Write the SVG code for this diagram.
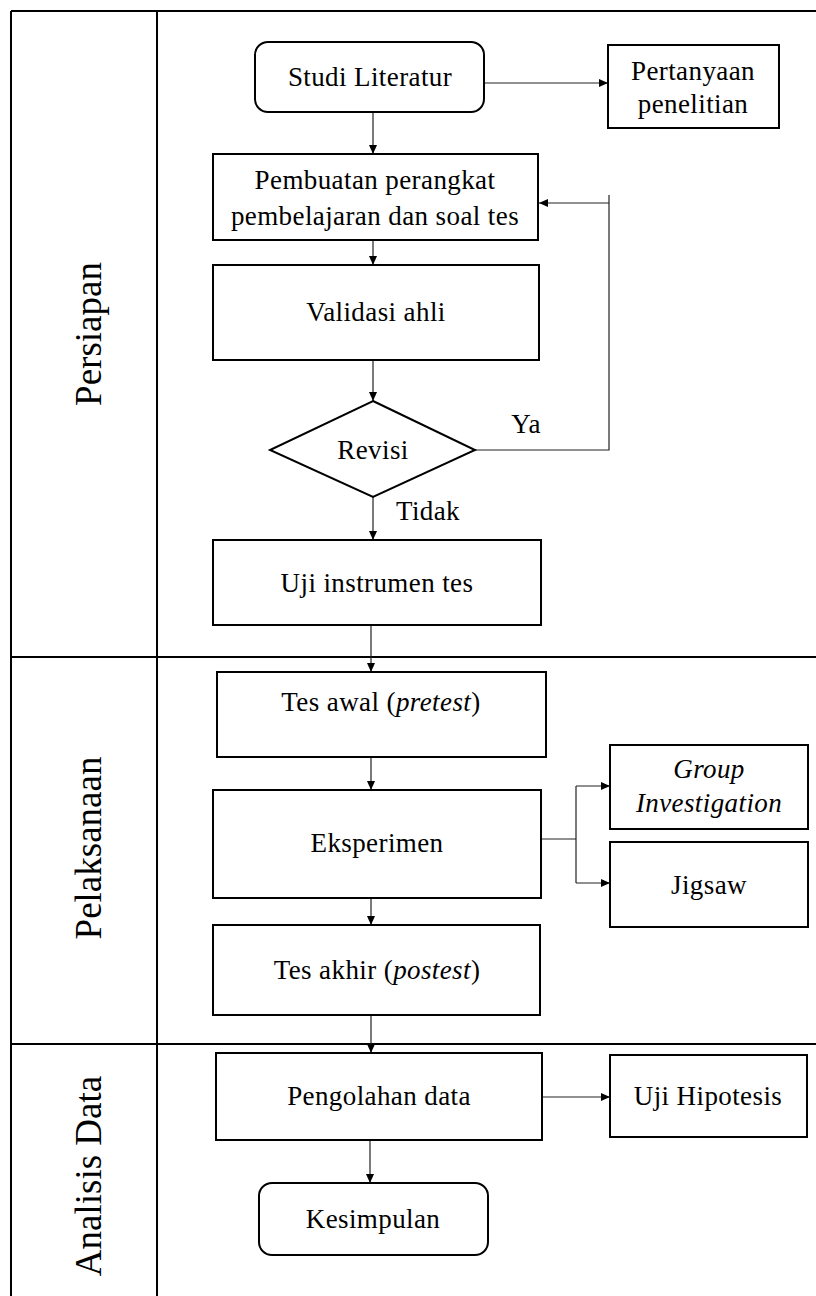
<svg xmlns="http://www.w3.org/2000/svg" width="816" height="1296" viewBox="0 0 816 1296">
<defs>
<marker id="ah" markerUnits="userSpaceOnUse" markerWidth="10" markerHeight="10" refX="9" refY="4" orient="auto">
<path d="M0,0 L9,4 L0,8 z" fill="#000"/>
</marker>
<style>
.box{fill:#fff;stroke:#000;stroke-width:2}
.lane{fill:none;stroke:#000;stroke-width:2}
.c{fill:none;stroke:#222;stroke-width:1.2}
.ca{fill:none;stroke:#222;stroke-width:1.2;marker-end:url(#ah)}
text{font-family:"Liberation Serif","Times New Roman",serif;fill:#000;text-anchor:middle}
.t{font-size:27px;letter-spacing:0.4px}
.it{font-style:italic}
.lbl{font-size:37px}
</style>
</defs>
<rect width="816" height="1296" fill="#fff"/>
<g id="lanes">
<line class="lane" x1="11" y1="11" x2="816" y2="11"/>
<line class="lane" x1="11" y1="11" x2="11" y2="1296"/>
<line class="lane" x1="157" y1="11" x2="157" y2="1296"/>
<line class="lane" x1="11" y1="657" x2="816" y2="657"/>
<line class="lane" x1="11" y1="1044" x2="816" y2="1044"/>
<text class="lbl" transform="translate(101,334) rotate(-90)">Persiapan</text>
<text class="lbl" transform="translate(101,848) rotate(-90)">Pelaksanaan</text>
<text class="lbl" transform="translate(101,1176) rotate(-90)">Analisis Data</text>
</g>
<g id="connectors">
<line class="ca" x1="484" y1="83" x2="608" y2="83"/>
<line class="ca" x1="373" y1="112" x2="373" y2="154"/>
<line class="ca" x1="373" y1="240" x2="373" y2="265"/>
<line class="ca" x1="373" y1="360" x2="373" y2="401"/>
<polyline class="c" points="475,450 609,450 609,195"/>
<line class="ca" x1="609" y1="203" x2="539" y2="203"/>
<line class="ca" x1="373" y1="497" x2="373" y2="540"/>
<line class="ca" x1="371" y1="625" x2="371" y2="672"/>
<line class="ca" x1="371" y1="757" x2="371" y2="790"/>
<line class="c" x1="541" y1="839" x2="576" y2="839"/>
<line class="c" x1="576" y1="786" x2="576" y2="883"/>
<line class="ca" x1="576" y1="786" x2="610" y2="786"/>
<line class="ca" x1="576" y1="883" x2="610" y2="883"/>
<line class="ca" x1="371" y1="898" x2="371" y2="925"/>
<line class="ca" x1="371" y1="1015" x2="371" y2="1053"/>
<line class="ca" x1="542" y1="1097" x2="610" y2="1097"/>
<line class="ca" x1="370" y1="1140" x2="370" y2="1183"/>
<text class="t" x="526" y="433">Ya</text>
<text class="t" x="428" y="520">Tidak</text>
</g>
<g id="studi-literatur">
<rect class="box" x="255" y="42" width="229" height="70" rx="13"/>
<text class="t" x="370" y="86">Studi Literatur</text>
</g>
<g id="pertanyaan-penelitian">
<rect class="box" x="608" y="45" width="171" height="83"/>
<text class="t" x="693" y="80">Pertanyaan</text>
<text class="t" x="693" y="113">penelitian</text>
</g>
<g id="pembuatan-perangkat">
<rect class="box" x="213" y="154" width="325" height="86"/>
<text class="t" x="375" y="189">Pembuatan perangkat</text>
<text class="t" x="375" y="225">pembelajaran dan soal tes</text>
</g>
<g id="validasi-ahli">
<rect class="box" x="213" y="265" width="326" height="95"/>
<text class="t" x="376" y="321">Validasi ahli</text>
</g>
<g id="revisi">
<polygon class="box" points="373,401 475,450 373,497 270,450"/>
<text class="t" x="373" y="459">Revisi</text>
</g>
<g id="uji-instrumen">
<rect class="box" x="213" y="540" width="328" height="85"/>
<text class="t" x="377" y="592">Uji instrumen tes</text>
</g>
<g id="tes-awal">
<rect class="box" x="217" y="672" width="329" height="85"/>
<text class="t" x="381" y="711">Tes awal (<tspan class="it">pretest</tspan>)</text>
</g>
<g id="eksperimen">
<rect class="box" x="213" y="790" width="328" height="108"/>
<text class="t" x="377" y="852">Eksperimen</text>
</g>
<g id="group-investigation">
<rect class="box" x="610" y="745" width="198" height="84"/>
<text class="t it" x="709" y="778">Group</text>
<text class="t it" x="709" y="812">Investigation</text>
</g>
<g id="jigsaw">
<rect class="box" x="610" y="842" width="198" height="85"/>
<text class="t" x="709" y="894">Jigsaw</text>
</g>
<g id="tes-akhir">
<rect class="box" x="213" y="925" width="327" height="90"/>
<text class="t" x="377" y="979">Tes akhir (<tspan class="it">postest</tspan>)</text>
</g>
<g id="pengolahan-data">
<rect class="box" x="216" y="1053" width="326" height="87"/>
<text class="t" x="379" y="1105">Pengolahan data</text>
</g>
<g id="uji-hipotesis">
<rect class="box" x="610" y="1055" width="197" height="82"/>
<text class="t" x="708" y="1105">Uji Hipotesis</text>
</g>
<g id="kesimpulan">
<rect class="box" x="259" y="1183" width="229" height="72" rx="13"/>
<text class="t" x="373" y="1228">Kesimpulan</text>
</g>
</svg>
